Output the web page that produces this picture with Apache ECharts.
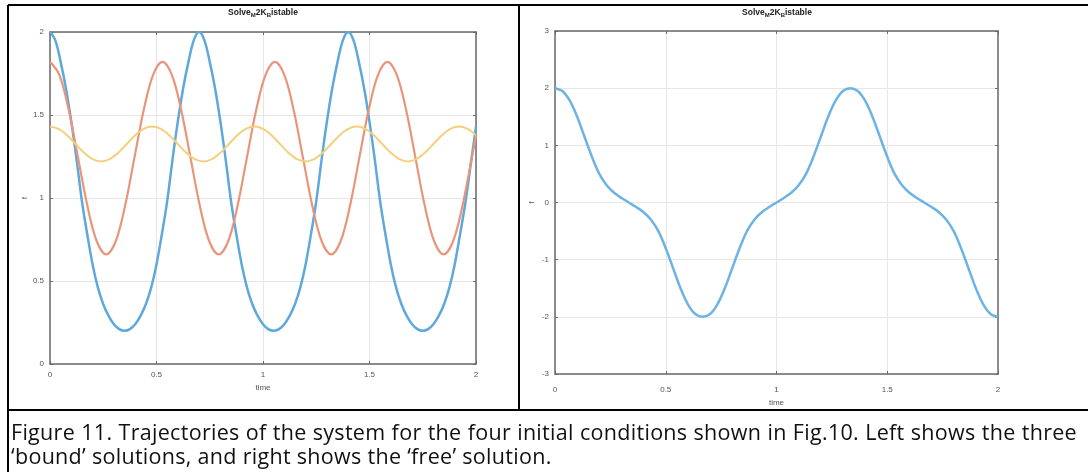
<!DOCTYPE html>
<html>
<head>
<meta charset="utf-8">
<script src="https://cdn.jsdelivr.net/npm/echarts@6/dist/echarts.min.js"></script>
<style>
  html, body { margin: 0; padding: 0; background: #fff; }
  #chart { position: absolute; left: 0; top: 0; width: 1088px; height: 472px; }
  #caption {
    position: absolute; left: 11px; top: 420px; width: 1066px;
    font-family: "Open Sans", "Noto Sans", sans-serif; font-size: 21.5px;
    letter-spacing: 0.3px; line-height: 24px; color: #111;
  }
  #caption .l1 { text-align: justify; text-align-last: justify; }
</style>
</head>
<body>
<div id="chart"></div>
<div id="caption">
  <div class="l1">Figure 11. Trajectories of the system for the four initial conditions shown in Fig.10. Left shows the three</div>
  <div>‘bound’ solutions, and right shows the ‘free’ solution.</div>
</div>
<script>
// left panel: three bound solutions
const blueTime = [0, 0.025, 0.05, 0.075, 0.1, 0.125, 0.15, 0.175, 0.2, 0.225, 0.25, 0.275, 0.3, 0.325, 0.35,
    0.375, 0.4, 0.425, 0.45, 0.475, 0.5, 0.525, 0.55, 0.575, 0.6, 0.625, 0.65, 0.675, 0.7,
    0.725, 0.75, 0.775, 0.8, 0.825, 0.85, 0.875, 0.9, 0.925, 0.95, 0.975, 1, 1.025, 1.05,
    1.075, 1.1, 1.125, 1.15, 1.175, 1.2, 1.225, 1.25, 1.275, 1.3, 1.325, 1.35, 1.375, 1.4,
    1.425, 1.45, 1.475, 1.5, 1.525, 1.55, 1.575, 1.6, 1.625, 1.65, 1.675, 1.7, 1.725, 1.75,
    1.775, 1.8, 1.825, 1.85, 1.875, 1.9, 1.925, 1.95, 1.975, 2]
const blueVal = [2.0, 1.95, 1.82, 1.66, 1.46, 1.23, 0.98, 0.78, 0.60, 0.46, 0.36, 0.29, 0.24, 0.21, 0.2,
    0.21, 0.24, 0.29, 0.36, 0.46, 0.60, 0.78, 0.98, 1.23, 1.46, 1.66, 1.82, 1.95, 2.0,
    1.95, 1.82, 1.66, 1.46, 1.23, 0.98, 0.78, 0.60, 0.46, 0.36, 0.29, 0.24, 0.21, 0.2,
    0.21, 0.24, 0.29, 0.36, 0.46, 0.60, 0.78, 0.98, 1.23, 1.46, 1.66, 1.82, 1.95, 2.0,
    1.95, 1.82, 1.66, 1.46, 1.23, 0.98, 0.78, 0.60, 0.46, 0.36, 0.29, 0.24, 0.21, 0.2,
    0.21, 0.24, 0.29, 0.36, 0.46, 0.60, 0.78, 0.97, 1.20, 1.43]

const orangeTime = [0, 0.044, 0.088, 0.132, 0.176, 0.22, 0.264, 0.308, 0.352, 0.396, 0.44, 0.484,
    0.528, 0.572, 0.616, 0.66, 0.704, 0.748, 0.792, 0.836, 0.88, 0.924, 0.968, 1.012,
    1.056, 1.1, 1.144, 1.188, 1.232, 1.276, 1.32, 1.364, 1.408, 1.452, 1.496, 1.54,
    1.584, 1.628, 1.672, 1.716, 1.76, 1.804, 1.848, 1.892, 1.936, 1.98, 2]
const orangeVal = [1.82, 1.742, 1.53, 1.24, 0.95, 0.738, 0.66, 0.738, 0.95, 1.24, 1.53, 1.742,
    1.82, 1.742, 1.53, 1.24, 0.95, 0.738, 0.66, 0.738, 0.95, 1.24, 1.53, 1.742,
    1.82, 1.742, 1.53, 1.24, 0.95, 0.738, 0.66, 0.738, 0.95, 1.24, 1.53, 1.742,
    1.82, 1.742, 1.53, 1.24, 0.95, 0.738, 0.66, 0.738, 0.95, 1.24, 1.375]

const yellowTime = [0, 0.04, 0.08, 0.12, 0.16, 0.2, 0.24, 0.28, 0.32, 0.36, 0.4, 0.44,
    0.48, 0.52, 0.56, 0.6, 0.64, 0.68, 0.72, 0.76, 0.8, 0.84, 0.88, 0.92,
    0.96, 1, 1.04, 1.08, 1.12, 1.16, 1.2, 1.24, 1.28, 1.32, 1.36, 1.4,
    1.44, 1.48, 1.52, 1.56, 1.6, 1.64, 1.68, 1.72, 1.76, 1.8, 1.84, 1.88,
    1.92, 1.96, 2]
const yellowVal = [1.43, 1.416, 1.378, 1.325, 1.272, 1.234, 1.22, 1.234, 1.272, 1.325, 1.378, 1.416,
    1.43, 1.416, 1.378, 1.325, 1.272, 1.234, 1.22, 1.234, 1.272, 1.325, 1.378, 1.416,
    1.43, 1.416, 1.378, 1.325, 1.272, 1.234, 1.22, 1.234, 1.272, 1.325, 1.378, 1.416,
    1.43, 1.416, 1.378, 1.325, 1.272, 1.234, 1.22, 1.234, 1.272, 1.325, 1.378, 1.416,
    1.43, 1.416, 1.378]

// right panel: free solution
const freeTime = [0, 0.0333, 0.0667, 0.1, 0.1333, 0.1667, 0.2, 0.2333, 0.2667, 0.3,
    0.3333, 0.3667, 0.4, 0.4333, 0.4667, 0.5, 0.5333, 0.5667, 0.6, 0.6333,
    0.6667, 0.7, 0.7333, 0.7667, 0.8, 0.8333, 0.8667, 0.9, 0.9333, 0.9667,
    1, 1.0333, 1.0667, 1.1, 1.1333, 1.1667, 1.2, 1.2333, 1.2667, 1.3,
    1.3333, 1.3667, 1.4, 1.4333, 1.4667, 1.5, 1.5333, 1.5667, 1.6, 1.6333,
    1.6667, 1.7, 1.7333, 1.7667, 1.8, 1.8333, 1.8667, 1.9, 1.9333, 1.9667, 2]
const freeVal = [2.0, 1.95, 1.78, 1.5, 1.15, 0.8, 0.5, 0.3, 0.17, 0.08,
    0, -0.08, -0.17, -0.3, -0.5, -0.8, -1.15, -1.5, -1.78, -1.95,
    -2.0, -1.95, -1.78, -1.5, -1.15, -0.8, -0.5, -0.3, -0.17, -0.08,
    0, 0.08, 0.17, 0.3, 0.5, 0.8, 1.15, 1.5, 1.78, 1.95,
    2.0, 1.95, 1.78, 1.5, 1.15, 0.8, 0.5, 0.3, 0.17, 0.08,
    0, -0.08, -0.17, -0.3, -0.5, -0.8, -1.15, -1.5, -1.78, -1.95, -2.0]

const titleText = "{b|Solve}{s|M}{b|2K}{s|B}{b|istable}"

const axisGray = "#6a6a6a"
const labelGray = "#555"

function bottomAxis(grid, labelMargin, nameGap) {
    return {
        type: "value", gridIndex: grid, min: 0, max: 2, interval: 0.5,
        name: "time", nameLocation: "middle", nameGap: nameGap,
        nameTextStyle: {fontSize: 8, color: labelGray, fontFamily: "Liberation Sans"},
        axisLine: {show: true, onZero: false, lineStyle: {color: axisGray, width: 1.5}},
        axisTick: {show: true, inside: true, length: 3, lineStyle: {color: axisGray}},
        axisLabel: {fontSize: 8, color: labelGray, margin: labelMargin, fontFamily: "Liberation Sans"},
        splitLine: {show: true, lineStyle: {color: "#e6e6e6", width: 1}}
    }
}
function topAxis(grid) {
    return {
        type: "value", gridIndex: grid, position: "top", min: 0, max: 2, interval: 0.5,
        axisLine: {show: true, onZero: false, lineStyle: {color: axisGray, width: 1.5}},
        axisTick: {show: true, inside: true, length: 3, lineStyle: {color: axisGray}},
        axisLabel: {show: false}, splitLine: {show: false}
    }
}
function leftAxis(grid, min, max, interval, nameGap) {
    return {
        type: "value", gridIndex: grid, min, max, interval,
        name: "f", nameLocation: "middle", nameGap: nameGap, nameRotate: 90,
        nameTextStyle: {fontSize: 7, color: labelGray, fontFamily: "Liberation Sans"},
        axisLine: {show: true, onZero: false, lineStyle: {color: axisGray, width: 1.5}},
        axisTick: {show: true, inside: true, length: 3, lineStyle: {color: axisGray}},
        axisLabel: {fontSize: 8, color: labelGray, margin: 6, fontFamily: "Liberation Sans"},
        splitLine: {show: true, lineStyle: {color: "#e6e6e6", width: 1}}
    }
}
function rightAxis(grid, min, max, interval) {
    return {
        type: "value", gridIndex: grid, position: "right", min, max, interval,
        axisLine: {show: true, onZero: false, lineStyle: {color: axisGray, width: 1.5}},
        axisTick: {show: true, inside: true, length: 3, lineStyle: {color: axisGray}},
        axisLabel: {show: false}, splitLine: {show: false}
    }
}
function curve(times, vals, xi, yi, color, width) {
    return {
        type: "line", xAxisIndex: xi, yAxisIndex: yi, smooth: 0.35, showSymbol: false,
        lineStyle: {color, width}, data: times.map((t, i) => [t, vals[i]])
    }
}
function titleItem(x) {
    return {
        type: "text", x, y: 13,
        style: {
            text: titleText, align: "center", verticalAlign: "middle", fill: "#222",
            rich: {
                b: {fontSize: 8.5, fontWeight: "bold", fontFamily: "Liberation Sans", fill: "#222"},
                s: {fontSize: 6, fontWeight: "bold", fontFamily: "Liberation Sans", fill: "#222", padding: [5, 0, 0, 0]}
            }
        }
    }
}
function border(x1, y1, x2, y2) {
    return {type: "line", shape: {x1, y1, x2, y2}, style: {stroke: "#000", lineWidth: 2}}
}

const chart = echarts.init(document.getElementById("chart"))
chart.setOption({
    animation: false,
    backgroundColor: "#fff",
    grid: [
        {left: 50, top: 32, width: 426, height: 332},
        {left: 555, top: 31, width: 443, height: 343}
    ],
    xAxis: [bottomAxis(0, 7, 19), topAxis(0), bottomAxis(1, 12, 25), topAxis(1)],
    yAxis: [leftAxis(0, 0, 2, 0.5, 17), rightAxis(0, 0, 2, 0.5), leftAxis(1, -3, 3, 1, 19), rightAxis(1, -3, 3, 1)],
    series: [
        curve(blueTime, blueVal, 0, 0, "#5ea8dc", 2.5),
        curve(orangeTime, orangeVal, 0, 0, "#e9957a", 2.2),
        curve(yellowTime, yellowVal, 0, 0, "#f3d07c", 2),
        curve(freeTime, freeVal, 2, 2, "#6db3e4", 2.5)
    ],
    graphic: [
        titleItem(263), titleItem(777),
        border(8, 5, 1088, 5),
        border(8, 5, 8, 472),
        border(519, 5, 519, 410),
        border(8, 410, 1088, 410)
    ]
})
</script>
</body>
</html>
